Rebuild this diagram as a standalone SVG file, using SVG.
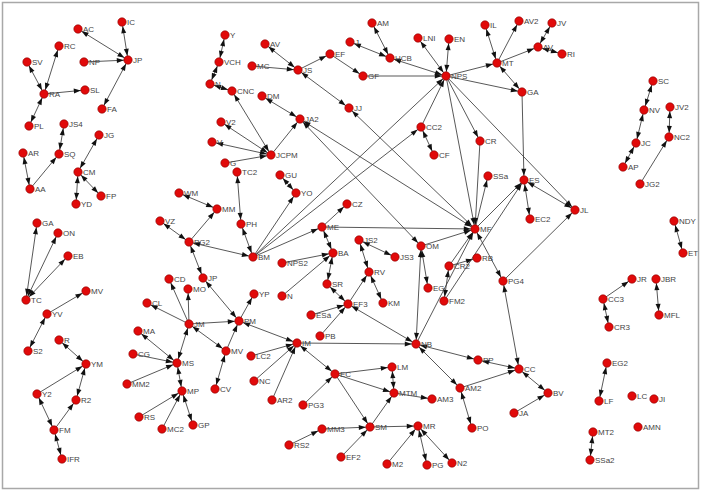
<svg xmlns="http://www.w3.org/2000/svg" width="702" height="492" viewBox="0 0 702 492">
<style>
.e{stroke:#3a3a3a;stroke-width:0.85;fill:none}
.d{marker-end:url(#a)}
.b{marker-start:url(#a);marker-end:url(#a)}
.node circle{fill:#e10a0a;stroke:#8a0000;stroke-width:0.6}
.node text{font-family:"Liberation Sans",Arial,sans-serif;font-size:8px;fill:#444}
</style>
<defs>
<marker id="a" markerUnits="userSpaceOnUse" markerWidth="14" markerHeight="6" refX="11.2" refY="2.5" orient="auto-start-reverse" overflow="visible">
<path d="M0,0 L7,2.5 L0,5 z" fill="#111"/>
</marker>
</defs>
<rect x="0" y="0" width="702" height="492" fill="#fff"/>
<rect x="2.5" y="2.5" width="696" height="486" fill="none" stroke="#a8a8a8" stroke-width="1.5"/>
<g id="edges">
<line class="e b" x1="128" y1="60" x2="78" y2="29"/>
<line class="e b" x1="128" y1="60" x2="122" y2="22"/>
<line class="e d" x1="84" y1="62" x2="128" y2="60"/>
<line class="e b" x1="102" y1="109" x2="128" y2="60"/>
<line class="e b" x1="44" y1="94" x2="27" y2="62"/>
<line class="e b" x1="44" y1="94" x2="59" y2="46"/>
<line class="e d" x1="44" y1="94" x2="85" y2="90"/>
<line class="e b" x1="29" y1="126" x2="44" y2="94"/>
<line class="e b" x1="64" y1="124" x2="59" y2="154"/>
<line class="e d" x1="30" y1="189" x2="59" y2="154"/>
<line class="e b" x1="30" y1="189" x2="23" y2="153"/>
<line class="e b" x1="78" y1="172" x2="99" y2="135"/>
<line class="e b" x1="78" y1="172" x2="76" y2="204"/>
<line class="e b" x1="78" y1="172" x2="101" y2="196"/>
<line class="e b" x1="26" y1="300" x2="37" y2="223"/>
<line class="e b" x1="26" y1="300" x2="58" y2="233"/>
<line class="e b" x1="26" y1="300" x2="68" y2="256"/>
<line class="e d" x1="47" y1="314" x2="86" y2="291"/>
<line class="e b" x1="28" y1="351" x2="47" y2="314"/>
<line class="e b" x1="59" y1="340" x2="86" y2="364"/>
<line class="e d" x1="37" y1="394" x2="86" y2="364"/>
<line class="e b" x1="37" y1="394" x2="54" y2="430"/>
<line class="e d" x1="54" y1="430" x2="76" y2="400"/>
<line class="e b" x1="76" y1="400" x2="86" y2="364"/>
<line class="e b" x1="54" y1="430" x2="62" y2="459"/>
<line class="e b" x1="177" y1="363" x2="138" y2="331"/>
<line class="e d" x1="133" y1="354" x2="177" y2="363"/>
<line class="e d" x1="127" y1="384" x2="177" y2="363"/>
<line class="e d" x1="139" y1="417" x2="182" y2="391"/>
<line class="e d" x1="162" y1="429" x2="182" y2="391"/>
<line class="e b" x1="177" y1="363" x2="182" y2="391"/>
<line class="e b" x1="182" y1="391" x2="193" y2="425"/>
<line class="e b" x1="177" y1="363" x2="189" y2="324"/>
<line class="e d" x1="189" y1="324" x2="169" y2="279"/>
<line class="e d" x1="189" y1="324" x2="147" y2="303"/>
<line class="e d" x1="189" y1="324" x2="188" y2="289"/>
<line class="e d" x1="189" y1="324" x2="239" y2="321"/>
<line class="e b" x1="189" y1="324" x2="226" y2="351"/>
<line class="e d" x1="226" y1="351" x2="239" y2="321"/>
<line class="e b" x1="226" y1="351" x2="215" y2="389"/>
<line class="e b" x1="189" y1="242" x2="203" y2="278"/>
<line class="e b" x1="203" y1="278" x2="239" y2="321"/>
<line class="e d" x1="239" y1="321" x2="254" y2="294"/>
<line class="e b" x1="189" y1="242" x2="160" y2="221"/>
<line class="e b" x1="189" y1="242" x2="253" y2="257"/>
<line class="e d" x1="189" y1="242" x2="217" y2="209"/>
<line class="e b" x1="179" y1="193" x2="217" y2="209"/>
<line class="e b" x1="237" y1="172" x2="241" y2="224"/>
<line class="e b" x1="241" y1="224" x2="253" y2="257"/>
<line class="e d" x1="253" y1="257" x2="296" y2="193"/>
<line class="e b" x1="296" y1="193" x2="280" y2="175"/>
<line class="e d" x1="253" y1="257" x2="322" y2="227"/>
<line class="e d" x1="253" y1="257" x2="446" y2="76"/>
<line class="e d" x1="253" y1="257" x2="421" y2="127"/>
<line class="e d" x1="282" y1="263" x2="333" y2="253"/>
<line class="e d" x1="282" y1="296" x2="333" y2="253"/>
<line class="e b" x1="322" y1="227" x2="333" y2="253"/>
<line class="e d" x1="322" y1="227" x2="347" y2="204"/>
<line class="e d" x1="322" y1="227" x2="475" y2="229"/>
<line class="e b" x1="333" y1="253" x2="327" y2="284"/>
<line class="e b" x1="327" y1="284" x2="348" y2="304"/>
<line class="e d" x1="311" y1="315" x2="348" y2="304"/>
<line class="e d" x1="320" y1="336" x2="348" y2="304"/>
<line class="e d" x1="348" y1="304" x2="369" y2="272"/>
<line class="e b" x1="369" y1="272" x2="359" y2="240"/>
<line class="e b" x1="359" y1="240" x2="395" y2="257"/>
<line class="e b" x1="369" y1="272" x2="383" y2="303"/>
<line class="e b" x1="348" y1="304" x2="416" y2="344"/>
<line class="e d" x1="297" y1="343" x2="416" y2="344"/>
<line class="e b" x1="421" y1="246" x2="416" y2="344"/>
<line class="e b" x1="421" y1="246" x2="428" y2="288"/>
<line class="e d" x1="421" y1="246" x2="475" y2="229"/>
<line class="e d" x1="449" y1="266" x2="475" y2="229"/>
<line class="e d" x1="449" y1="266" x2="477" y2="258"/>
<line class="e b" x1="449" y1="266" x2="444" y2="301"/>
<line class="e d" x1="416" y1="344" x2="475" y2="229"/>
<line class="e b" x1="503" y1="281" x2="519" y2="369"/>
<line class="e b" x1="475" y1="229" x2="503" y2="281"/>
<line class="e d" x1="503" y1="281" x2="575" y2="210"/>
<line class="e d" x1="475" y1="229" x2="488" y2="176"/>
<line class="e d" x1="475" y1="229" x2="524" y2="180"/>
<line class="e d" x1="444" y1="301" x2="524" y2="180"/>
<line class="e b" x1="524" y1="180" x2="575" y2="210"/>
<line class="e b" x1="524" y1="180" x2="530" y2="219"/>
<line class="e d" x1="522" y1="92" x2="524" y2="180"/>
<line class="e d" x1="446" y1="76" x2="575" y2="210"/>
<line class="e d" x1="446" y1="76" x2="475" y2="229"/>
<line class="e d" x1="446" y1="76" x2="480" y2="141"/>
<line class="e d" x1="480" y1="141" x2="475" y2="229"/>
<line class="e d" x1="446" y1="76" x2="522" y2="92"/>
<line class="e b" x1="497" y1="63" x2="522" y2="92"/>
<line class="e d" x1="446" y1="76" x2="497" y2="63"/>
<line class="e b" x1="497" y1="63" x2="485" y2="25"/>
<line class="e d" x1="497" y1="63" x2="519" y2="21"/>
<line class="e d" x1="497" y1="63" x2="538" y2="47"/>
<line class="e b" x1="538" y1="47" x2="552" y2="23"/>
<line class="e b" x1="538" y1="47" x2="562" y2="54"/>
<line class="e b" x1="390" y1="58" x2="446" y2="76"/>
<line class="e d" x1="363" y1="76" x2="446" y2="76"/>
<line class="e b" x1="418" y1="38" x2="446" y2="76"/>
<line class="e b" x1="449" y1="39" x2="446" y2="76"/>
<line class="e d" x1="421" y1="127" x2="446" y2="76"/>
<line class="e b" x1="421" y1="127" x2="434" y2="155"/>
<line class="e b" x1="350" y1="42" x2="390" y2="58"/>
<line class="e b" x1="372" y1="23" x2="390" y2="58"/>
<line class="e d" x1="330" y1="54" x2="363" y2="76"/>
<line class="e d" x1="298" y1="70" x2="330" y2="54"/>
<line class="e b" x1="265" y1="44" x2="298" y2="70"/>
<line class="e d" x1="252" y1="66" x2="298" y2="70"/>
<line class="e b" x1="298" y1="70" x2="349" y2="108"/>
<line class="e b" x1="349" y1="108" x2="475" y2="229"/>
<line class="e b" x1="300" y1="119" x2="475" y2="229"/>
<line class="e b" x1="300" y1="119" x2="421" y2="246"/>
<line class="e b" x1="262" y1="96" x2="300" y2="119"/>
<line class="e d" x1="271" y1="155" x2="300" y2="119"/>
<line class="e b" x1="271" y1="155" x2="232" y2="91"/>
<line class="e b" x1="271" y1="155" x2="221" y2="122"/>
<line class="e b" x1="271" y1="155" x2="212" y2="142"/>
<line class="e d" x1="225" y1="163" x2="271" y2="155"/>
<line class="e b" x1="210" y1="84" x2="232" y2="91"/>
<line class="e b" x1="210" y1="84" x2="219" y2="62"/>
<line class="e b" x1="219" y1="62" x2="225" y2="35"/>
<line class="e b" x1="416" y1="344" x2="478" y2="360"/>
<line class="e b" x1="416" y1="344" x2="460" y2="388"/>
<line class="e d" x1="460" y1="388" x2="519" y2="369"/>
<line class="e b" x1="519" y1="369" x2="478" y2="360"/>
<line class="e b" x1="460" y1="388" x2="472" y2="428"/>
<line class="e b" x1="519" y1="369" x2="548" y2="393"/>
<line class="e d" x1="514" y1="413" x2="548" y2="393"/>
<line class="e b" x1="239" y1="321" x2="297" y2="343"/>
<line class="e d" x1="251" y1="356" x2="297" y2="343"/>
<line class="e d" x1="254" y1="381" x2="297" y2="343"/>
<line class="e d" x1="272" y1="400" x2="297" y2="343"/>
<line class="e b" x1="297" y1="343" x2="335" y2="374"/>
<line class="e d" x1="303" y1="405" x2="335" y2="374"/>
<line class="e d" x1="335" y1="374" x2="392" y2="367"/>
<line class="e d" x1="335" y1="374" x2="394" y2="393"/>
<line class="e d" x1="335" y1="374" x2="370" y2="427"/>
<line class="e b" x1="392" y1="367" x2="394" y2="393"/>
<line class="e d" x1="394" y1="393" x2="432" y2="399"/>
<line class="e d" x1="370" y1="427" x2="394" y2="393"/>
<line class="e d" x1="370" y1="427" x2="418" y2="426"/>
<line class="e d" x1="387" y1="464" x2="418" y2="426"/>
<line class="e b" x1="418" y1="426" x2="427" y2="465"/>
<line class="e b" x1="418" y1="426" x2="452" y2="463"/>
<line class="e d" x1="289" y1="445" x2="322" y2="429"/>
<line class="e d" x1="322" y1="429" x2="370" y2="427"/>
<line class="e d" x1="341" y1="457" x2="370" y2="427"/>
<line class="e b" x1="623" y1="167" x2="636" y2="143"/>
<line class="e b" x1="636" y1="143" x2="644" y2="110"/>
<line class="e b" x1="644" y1="110" x2="653" y2="81"/>
<line class="e d" x1="640" y1="184" x2="669" y2="137"/>
<line class="e b" x1="669" y1="137" x2="670" y2="107"/>
<line class="e b" x1="674" y1="221" x2="683" y2="253"/>
<line class="e d" x1="603" y1="299" x2="632" y2="279"/>
<line class="e b" x1="603" y1="299" x2="609" y2="327"/>
<line class="e b" x1="656" y1="279" x2="659" y2="315"/>
<line class="e b" x1="607" y1="363" x2="599" y2="401"/>
<line class="e b" x1="593" y1="432" x2="590" y2="460"/>
</g>
<g id="n-AC" class="node"><circle cx="78" cy="29" r="4.2"/><text x="83" y="32">AC</text></g>
<g id="n-IC" class="node"><circle cx="122" cy="22" r="4.2"/><text x="127" y="25">IC</text></g>
<g id="n-NP" class="node"><circle cx="84" cy="62" r="4.2"/><text x="89" y="65">NP</text></g>
<g id="n-JP" class="node"><circle cx="128" cy="60" r="4.2"/><text x="133" y="63">JP</text></g>
<g id="n-RC" class="node"><circle cx="59" cy="46" r="4.2"/><text x="64" y="49">RC</text></g>
<g id="n-SV" class="node"><circle cx="27" cy="62" r="4.2"/><text x="32" y="65">SV</text></g>
<g id="n-RA" class="node"><circle cx="44" cy="94" r="4.2"/><text x="49" y="97">RA</text></g>
<g id="n-SL" class="node"><circle cx="85" cy="90" r="4.2"/><text x="90" y="93">SL</text></g>
<g id="n-FA" class="node"><circle cx="102" cy="109" r="4.2"/><text x="107" y="112">FA</text></g>
<g id="n-PL" class="node"><circle cx="29" cy="126" r="4.2"/><text x="34" y="129">PL</text></g>
<g id="n-JS4" class="node"><circle cx="64" cy="124" r="4.2"/><text x="69" y="127">JS4</text></g>
<g id="n-JG" class="node"><circle cx="99" cy="135" r="4.2"/><text x="104" y="138">JG</text></g>
<g id="n-AR" class="node"><circle cx="23" cy="153" r="4.2"/><text x="28" y="156">AR</text></g>
<g id="n-SQ" class="node"><circle cx="59" cy="154" r="4.2"/><text x="64" y="157">SQ</text></g>
<g id="n-CM" class="node"><circle cx="78" cy="172" r="4.2"/><text x="83" y="175">CM</text></g>
<g id="n-AA" class="node"><circle cx="30" cy="189" r="4.2"/><text x="35" y="192">AA</text></g>
<g id="n-YD" class="node"><circle cx="76" cy="204" r="4.2"/><text x="81" y="207">YD</text></g>
<g id="n-FP" class="node"><circle cx="101" cy="196" r="4.2"/><text x="106" y="199">FP</text></g>
<g id="n-GA-left" class="node"><circle cx="37" cy="223" r="4.2"/><text x="42" y="226">GA</text></g>
<g id="n-ON" class="node"><circle cx="58" cy="233" r="4.2"/><text x="63" y="236">ON</text></g>
<g id="n-EB" class="node"><circle cx="68" cy="256" r="4.2"/><text x="73" y="259">EB</text></g>
<g id="n-TC" class="node"><circle cx="26" cy="300" r="4.2"/><text x="31" y="303">TC</text></g>
<g id="n-MV-left" class="node"><circle cx="86" cy="291" r="4.2"/><text x="91" y="294">MV</text></g>
<g id="n-YV" class="node"><circle cx="47" cy="314" r="4.2"/><text x="52" y="317">YV</text></g>
<g id="n-S2" class="node"><circle cx="28" cy="351" r="4.2"/><text x="33" y="354">S2</text></g>
<g id="n-R" class="node"><circle cx="59" cy="340" r="4.2"/><text x="64" y="343">R</text></g>
<g id="n-YM" class="node"><circle cx="86" cy="364" r="4.2"/><text x="91" y="367">YM</text></g>
<g id="n-Y2" class="node"><circle cx="37" cy="394" r="4.2"/><text x="42" y="397">Y2</text></g>
<g id="n-R2" class="node"><circle cx="76" cy="400" r="4.2"/><text x="81" y="403">R2</text></g>
<g id="n-FM" class="node"><circle cx="54" cy="430" r="4.2"/><text x="59" y="433">FM</text></g>
<g id="n-IFR" class="node"><circle cx="62" cy="459" r="4.2"/><text x="67" y="462">IFR</text></g>
<g id="n-VZ" class="node"><circle cx="160" cy="221" r="4.2"/><text x="165" y="224">VZ</text></g>
<g id="n-WM" class="node"><circle cx="179" cy="193" r="4.2"/><text x="184" y="196">WM</text></g>
<g id="n-MM" class="node"><circle cx="217" cy="209" r="4.2"/><text x="222" y="212">MM</text></g>
<g id="n-PG2" class="node"><circle cx="189" cy="242" r="4.2"/><text x="194" y="245">PG2</text></g>
<g id="n-CD" class="node"><circle cx="169" cy="279" r="4.2"/><text x="174" y="282">CD</text></g>
<g id="n-MO" class="node"><circle cx="188" cy="289" r="4.2"/><text x="193" y="292">MO</text></g>
<g id="n-JP-2" class="node"><circle cx="203" cy="278" r="4.2"/><text x="208" y="281">JP</text></g>
<g id="n-CL" class="node"><circle cx="147" cy="303" r="4.2"/><text x="152" y="306">CL</text></g>
<g id="n-JM" class="node"><circle cx="189" cy="324" r="4.2"/><text x="194" y="327">JM</text></g>
<g id="n-MA" class="node"><circle cx="138" cy="331" r="4.2"/><text x="143" y="334">MA</text></g>
<g id="n-CG" class="node"><circle cx="133" cy="354" r="4.2"/><text x="138" y="357">CG</text></g>
<g id="n-MS" class="node"><circle cx="177" cy="363" r="4.2"/><text x="182" y="366">MS</text></g>
<g id="n-MM2" class="node"><circle cx="127" cy="384" r="4.2"/><text x="132" y="387">MM2</text></g>
<g id="n-RS" class="node"><circle cx="139" cy="417" r="4.2"/><text x="144" y="420">RS</text></g>
<g id="n-MC2" class="node"><circle cx="162" cy="429" r="4.2"/><text x="167" y="432">MC2</text></g>
<g id="n-MP" class="node"><circle cx="182" cy="391" r="4.2"/><text x="187" y="394">MP</text></g>
<g id="n-GP" class="node"><circle cx="193" cy="425" r="4.2"/><text x="198" y="428">GP</text></g>
<g id="n-PM" class="node"><circle cx="239" cy="321" r="4.2"/><text x="244" y="324">PM</text></g>
<g id="n-YP" class="node"><circle cx="254" cy="294" r="4.2"/><text x="259" y="297">YP</text></g>
<g id="n-MV" class="node"><circle cx="226" cy="351" r="4.2"/><text x="231" y="354">MV</text></g>
<g id="n-CV" class="node"><circle cx="215" cy="389" r="4.2"/><text x="220" y="392">CV</text></g>
<g id="n-Y" class="node"><circle cx="225" cy="35" r="4.2"/><text x="230" y="38">Y</text></g>
<g id="n-VCH" class="node"><circle cx="219" cy="62" r="4.2"/><text x="224" y="65">VCH</text></g>
<g id="n-N" class="node"><circle cx="210" cy="84" r="4.2"/><text x="215" y="87">N</text></g>
<g id="n-CNC" class="node"><circle cx="232" cy="91" r="4.2"/><text x="237" y="94">CNC</text></g>
<g id="n-AV" class="node"><circle cx="265" cy="44" r="4.2"/><text x="270" y="47">AV</text></g>
<g id="n-MC" class="node"><circle cx="252" cy="66" r="4.2"/><text x="257" y="69">MC</text></g>
<g id="n-JS" class="node"><circle cx="298" cy="70" r="4.2"/><text x="303" y="73">JS</text></g>
<g id="n-EF" class="node"><circle cx="330" cy="54" r="4.2"/><text x="335" y="57">EF</text></g>
<g id="n-DM" class="node"><circle cx="262" cy="96" r="4.2"/><text x="267" y="99">DM</text></g>
<g id="n-JA2" class="node"><circle cx="300" cy="119" r="4.2"/><text x="305" y="122">JA2</text></g>
<g id="n-V2" class="node"><circle cx="221" cy="122" r="4.2"/><text x="226" y="125">V2</text></g>
<g id="n-V" class="node"><circle cx="212" cy="142" r="4.2"/><text x="217" y="145">V</text></g>
<g id="n-JCPM" class="node"><circle cx="271" cy="155" r="4.2"/><text x="276" y="158">JCPM</text></g>
<g id="n-G" class="node"><circle cx="225" cy="163" r="4.2"/><text x="230" y="166">G</text></g>
<g id="n-TC2" class="node"><circle cx="237" cy="172" r="4.2"/><text x="242" y="175">TC2</text></g>
<g id="n-GU" class="node"><circle cx="280" cy="175" r="4.2"/><text x="285" y="178">GU</text></g>
<g id="n-YO" class="node"><circle cx="296" cy="193" r="4.2"/><text x="301" y="196">YO</text></g>
<g id="n-PH" class="node"><circle cx="241" cy="224" r="4.2"/><text x="246" y="227">PH</text></g>
<g id="n-BM" class="node"><circle cx="253" cy="257" r="4.2"/><text x="258" y="260">BM</text></g>
<g id="n-ME" class="node"><circle cx="322" cy="227" r="4.2"/><text x="327" y="230">ME</text></g>
<g id="n-CZ" class="node"><circle cx="347" cy="204" r="4.2"/><text x="352" y="207">CZ</text></g>
<g id="n-BA" class="node"><circle cx="333" cy="253" r="4.2"/><text x="338" y="256">BA</text></g>
<g id="n-NPS2" class="node"><circle cx="282" cy="263" r="4.2"/><text x="287" y="266">NPS2</text></g>
<g id="n-N-2" class="node"><circle cx="282" cy="296" r="4.2"/><text x="287" y="299">N</text></g>
<g id="n-SR" class="node"><circle cx="327" cy="284" r="4.2"/><text x="332" y="287">SR</text></g>
<g id="n-ESa" class="node"><circle cx="311" cy="315" r="4.2"/><text x="316" y="318">ESá</text></g>
<g id="n-EF3" class="node"><circle cx="348" cy="304" r="4.2"/><text x="353" y="307">EF3</text></g>
<g id="n-PB" class="node"><circle cx="320" cy="336" r="4.2"/><text x="325" y="339">PB</text></g>
<g id="n-JS2" class="node"><circle cx="359" cy="240" r="4.2"/><text x="364" y="243">JS2</text></g>
<g id="n-JS3" class="node"><circle cx="395" cy="257" r="4.2"/><text x="400" y="260">JS3</text></g>
<g id="n-RV" class="node"><circle cx="369" cy="272" r="4.2"/><text x="374" y="275">RV</text></g>
<g id="n-KM" class="node"><circle cx="383" cy="303" r="4.2"/><text x="388" y="306">KM</text></g>
<g id="n-JJ" class="node"><circle cx="349" cy="108" r="4.2"/><text x="354" y="111">JJ</text></g>
<g id="n-AM" class="node"><circle cx="372" cy="23" r="4.2"/><text x="377" y="26">AM</text></g>
<g id="n-J" class="node"><circle cx="350" cy="42" r="4.2"/><text x="355" y="45">J</text></g>
<g id="n-HCB" class="node"><circle cx="390" cy="58" r="4.2"/><text x="395" y="61">HCB</text></g>
<g id="n-GF" class="node"><circle cx="363" cy="76" r="4.2"/><text x="368" y="79">GF</text></g>
<g id="n-LNI" class="node"><circle cx="418" cy="38" r="4.2"/><text x="423" y="41">LNI</text></g>
<g id="n-EN" class="node"><circle cx="449" cy="39" r="4.2"/><text x="454" y="42">EN</text></g>
<g id="n-NPS" class="node"><circle cx="446" cy="76" r="4.2"/><text x="451" y="79">NPS</text></g>
<g id="n-IL" class="node"><circle cx="485" cy="25" r="4.2"/><text x="490" y="28">IL</text></g>
<g id="n-MT" class="node"><circle cx="497" cy="63" r="4.2"/><text x="502" y="66">MT</text></g>
<g id="n-AV2" class="node"><circle cx="519" cy="21" r="4.2"/><text x="524" y="24">AV2</text></g>
<g id="n-JV" class="node"><circle cx="552" cy="23" r="4.2"/><text x="557" y="26">JV</text></g>
<g id="n-AV-2" class="node"><circle cx="538" cy="47" r="4.2"/><text x="543" y="50">AV</text></g>
<g id="n-RI" class="node"><circle cx="562" cy="54" r="4.2"/><text x="567" y="57">RI</text></g>
<g id="n-GA" class="node"><circle cx="522" cy="92" r="4.2"/><text x="527" y="95">GA</text></g>
<g id="n-CC2" class="node"><circle cx="421" cy="127" r="4.2"/><text x="426" y="130">CC2</text></g>
<g id="n-CF" class="node"><circle cx="434" cy="155" r="4.2"/><text x="439" y="158">CF</text></g>
<g id="n-CR" class="node"><circle cx="480" cy="141" r="4.2"/><text x="485" y="144">CR</text></g>
<g id="n-SSa" class="node"><circle cx="488" cy="176" r="4.2"/><text x="493" y="179">SSa</text></g>
<g id="n-MF" class="node"><circle cx="475" cy="229" r="4.2"/><text x="480" y="232">MF</text></g>
<g id="n-ES" class="node"><circle cx="524" cy="180" r="4.2"/><text x="529" y="183">ES</text></g>
<g id="n-EC2" class="node"><circle cx="530" cy="219" r="4.2"/><text x="535" y="222">EC2</text></g>
<g id="n-JL" class="node"><circle cx="575" cy="210" r="4.2"/><text x="580" y="213">JL</text></g>
<g id="n-OM" class="node"><circle cx="421" cy="246" r="4.2"/><text x="426" y="249">OM</text></g>
<g id="n-RB" class="node"><circle cx="477" cy="258" r="4.2"/><text x="482" y="261">RB</text></g>
<g id="n-CR2" class="node"><circle cx="449" cy="266" r="4.2"/><text x="454" y="269">CR2</text></g>
<g id="n-EG" class="node"><circle cx="428" cy="288" r="4.2"/><text x="433" y="291">EG</text></g>
<g id="n-PG4" class="node"><circle cx="503" cy="281" r="4.2"/><text x="508" y="284">PG4</text></g>
<g id="n-FM2" class="node"><circle cx="444" cy="301" r="4.2"/><text x="449" y="304">FM2</text></g>
<g id="n-SC" class="node"><circle cx="653" cy="81" r="4.2"/><text x="658" y="84">SC</text></g>
<g id="n-NV" class="node"><circle cx="644" cy="110" r="4.2"/><text x="649" y="113">NV</text></g>
<g id="n-JV2" class="node"><circle cx="670" cy="107" r="4.2"/><text x="675" y="110">JV2</text></g>
<g id="n-JC" class="node"><circle cx="636" cy="143" r="4.2"/><text x="641" y="146">JC</text></g>
<g id="n-NC2" class="node"><circle cx="669" cy="137" r="4.2"/><text x="674" y="140">NC2</text></g>
<g id="n-AP" class="node"><circle cx="623" cy="167" r="4.2"/><text x="628" y="170">AP</text></g>
<g id="n-JG2" class="node"><circle cx="640" cy="184" r="4.2"/><text x="645" y="187">JG2</text></g>
<g id="n-NDY" class="node"><circle cx="674" cy="221" r="4.2"/><text x="679" y="224">NDY</text></g>
<g id="n-ET" class="node"><circle cx="683" cy="253" r="4.2"/><text x="688" y="256">ET</text></g>
<g id="n-JR" class="node"><circle cx="632" cy="279" r="4.2"/><text x="637" y="282">JR</text></g>
<g id="n-JBR" class="node"><circle cx="656" cy="279" r="4.2"/><text x="661" y="282">JBR</text></g>
<g id="n-CC3" class="node"><circle cx="603" cy="299" r="4.2"/><text x="608" y="302">CC3</text></g>
<g id="n-MFL" class="node"><circle cx="659" cy="315" r="4.2"/><text x="664" y="318">MFL</text></g>
<g id="n-CR3" class="node"><circle cx="609" cy="327" r="4.2"/><text x="614" y="330">CR3</text></g>
<g id="n-EG2" class="node"><circle cx="607" cy="363" r="4.2"/><text x="612" y="366">EG2</text></g>
<g id="n-LF" class="node"><circle cx="599" cy="401" r="4.2"/><text x="604" y="404">LF</text></g>
<g id="n-LC" class="node"><circle cx="632" cy="396" r="4.2"/><text x="637" y="399">LC</text></g>
<g id="n-JI" class="node"><circle cx="654" cy="399" r="4.2"/><text x="659" y="402">JI</text></g>
<g id="n-MT2" class="node"><circle cx="593" cy="432" r="4.2"/><text x="598" y="435">MT2</text></g>
<g id="n-AMN" class="node"><circle cx="638" cy="427" r="4.2"/><text x="643" y="430">AMN</text></g>
<g id="n-SSa2" class="node"><circle cx="590" cy="460" r="4.2"/><text x="595" y="463">SSa2</text></g>
<g id="n-IM" class="node"><circle cx="297" cy="343" r="4.2"/><text x="302" y="346">IM</text></g>
<g id="n-LC2" class="node"><circle cx="251" cy="356" r="4.2"/><text x="256" y="359">LC2</text></g>
<g id="n-NC" class="node"><circle cx="254" cy="381" r="4.2"/><text x="259" y="384">NC</text></g>
<g id="n-AR2" class="node"><circle cx="272" cy="400" r="4.2"/><text x="277" y="403">AR2</text></g>
<g id="n-EC" class="node"><circle cx="335" cy="374" r="4.2"/><text x="340" y="377">EC</text></g>
<g id="n-PG3" class="node"><circle cx="303" cy="405" r="4.2"/><text x="308" y="408">PG3</text></g>
<g id="n-MM3" class="node"><circle cx="322" cy="429" r="4.2"/><text x="327" y="432">MM3</text></g>
<g id="n-RS2" class="node"><circle cx="289" cy="445" r="4.2"/><text x="294" y="448">RS2</text></g>
<g id="n-EF2" class="node"><circle cx="341" cy="457" r="4.2"/><text x="346" y="460">EF2</text></g>
<g id="n-NB" class="node"><circle cx="416" cy="344" r="4.2"/><text x="421" y="347">NB</text></g>
<g id="n-PP" class="node"><circle cx="478" cy="360" r="4.2"/><text x="483" y="363">PP</text></g>
<g id="n-CC" class="node"><circle cx="519" cy="369" r="4.2"/><text x="524" y="372">CC</text></g>
<g id="n-LM" class="node"><circle cx="392" cy="367" r="4.2"/><text x="397" y="370">LM</text></g>
<g id="n-MTM" class="node"><circle cx="394" cy="393" r="4.2"/><text x="399" y="396">MTM</text></g>
<g id="n-AM3" class="node"><circle cx="432" cy="399" r="4.2"/><text x="437" y="402">AM3</text></g>
<g id="n-AM2" class="node"><circle cx="460" cy="388" r="4.2"/><text x="465" y="391">AM2</text></g>
<g id="n-SM" class="node"><circle cx="370" cy="427" r="4.2"/><text x="375" y="430">SM</text></g>
<g id="n-MR" class="node"><circle cx="418" cy="426" r="4.2"/><text x="423" y="429">MR</text></g>
<g id="n-PO" class="node"><circle cx="472" cy="428" r="4.2"/><text x="477" y="431">PO</text></g>
<g id="n-M2" class="node"><circle cx="387" cy="464" r="4.2"/><text x="392" y="467">M2</text></g>
<g id="n-PG" class="node"><circle cx="427" cy="465" r="4.2"/><text x="432" y="468">PG</text></g>
<g id="n-N2" class="node"><circle cx="452" cy="463" r="4.2"/><text x="457" y="466">N2</text></g>
<g id="n-BV" class="node"><circle cx="548" cy="393" r="4.2"/><text x="553" y="396">BV</text></g>
<g id="n-JA" class="node"><circle cx="514" cy="413" r="4.2"/><text x="519" y="416">JA</text></g>
</svg>
